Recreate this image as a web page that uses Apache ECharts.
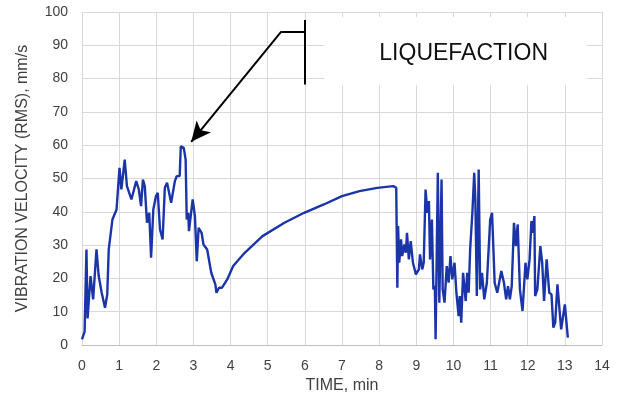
<!DOCTYPE html>
<html>
<head>
<meta charset="utf-8">
<script src="https://cdn.jsdelivr.net/npm/echarts@6/dist/echarts.min.js"></script>
<style>
  html, body { margin: 0; padding: 0; background: #fff; }
  #main { width: 618px; height: 402px; }
</style>
</head>
<body>
<div id="main"></div>
<script>
// time, min
const timeMin = [
  0, 0.07, 0.12, 0.15, 0.23, 0.3, 0.39, 0.45, 0.53, 0.62, 0.68, 0.72, 0.82, 0.93,
  1.01, 1.06, 1.15, 1.21, 1.33, 1.46, 1.53, 1.59, 1.64, 1.69, 1.75, 1.81, 1.86, 1.92,
  1.99, 2.04, 2.1, 2.17, 2.23, 2.29, 2.4, 2.5, 2.55, 2.63, 2.66, 2.74, 2.79, 2.82,
  2.86, 2.88, 2.98, 3.04, 3.09, 3.14, 3.22, 3.27, 3.37, 3.48, 3.59, 3.62, 3.69, 3.77,
  3.91, 4.07, 4.38, 4.86, 5.45, 5.98, 6.51, 7.0, 7.47, 7.95, 8.38, 8.46,
  8.49, 8.51, 8.54, 8.59, 8.62, 8.68, 8.72, 8.75, 8.8, 8.85, 8.91, 8.99, 9.07, 9.1,
  9.16, 9.2, 9.25, 9.3, 9.34, 9.37, 9.42, 9.46, 9.5, 9.52, 9.58, 9.62, 9.68, 9.71,
  9.76, 9.82, 9.87, 9.92, 9.97, 10.03, 10.08, 10.14, 10.17, 10.21, 10.26, 10.33,
  10.37, 10.41, 10.45, 10.51, 10.56, 10.59, 10.63, 10.68, 10.72, 10.77, 10.83, 10.9,
  10.99, 11.04, 11.11, 11.18, 11.29, 11.36, 11.42, 11.47, 11.52, 11.57, 11.63, 11.68,
  11.73, 11.79, 11.86, 11.94, 11.99, 12.05, 12.1, 12.13, 12.18, 12.2, 12.26, 12.34,
  12.39, 12.44, 12.51, 12.58, 12.64, 12.69, 12.74, 12.8, 12.85, 12.9, 12.95, 13.0, 13.08
];

// vibration velocity (RMS), mm/s
const velocity = [
  1.7, 4, 28.7, 8, 20.7, 13.7, 28.7, 20.7, 15.7, 11.2, 15.2, 28.7, 37.7, 40.7,
  53.2, 46.7, 55.7, 47.7, 43.7, 49.2, 46.7, 41.7, 49.7, 47.7, 36.7, 39.7, 26.2, 40.7,
  44.7, 45.7, 34.7, 31.7, 47.2, 48.7, 42.7, 49.2, 50.7, 50.7, 59.7, 59.2, 55.7, 37.7,
  39.7, 34.2, 43.7, 38.7, 25.2, 35.2, 33.7, 30.2, 28.7, 21.7, 18.2, 15.7, 17.2, 17.2,
  19.7, 23.7, 27.7, 32.7, 36.7, 39.7, 42.2, 44.7, 46.2, 47.2, 47.7, 47.2,
  17.2, 35.7, 24.7, 31.7, 26.7, 30.2, 27.7, 33.7, 25.7, 31.2, 24.7, 21.2, 22.7, 27.2,
  22.7, 24.7, 46.7, 39.7, 43.2, 25.7, 37.7, 16.7, 17.7, 1.7, 51.7, 12.7, 49.7, 16.7,
  12.7, 23.7, 18.7, 26.7, 19.7, 24.7, 15.7, 8.7, 14.7, 6.7, 21.7, 13.2,
  21.7, 15.7, 28.7, 39.7, 51.7, 43.7, 14.7, 52.7, 16.7, 21.7, 13.7, 18.7,
  37.7, 39.7, 18.7, 15.7, 22.2, 18.7, 13.7, 17.7, 13.7, 17.7, 36.7, 29.7,
  36.2, 16.7, 10.2, 24.7, 19.7, 25.7, 37.2, 33.7, 38.7, 14.7, 16.7, 29.7,
  24.7, 13.2, 25.7, 15.7, 15.2, 5.2, 6.7, 18.2, 18.7, 4.7, 4.2, 12.2, 2.2
];

const xTicks = [0, 14, 1];
const yTicks = [0, 100, 10];

// annotation: arrow elbow, arrow tip, bracket bar, label box
const arrowFrom = [5.37, 94.2];
const arrowTo = [2.94, 61];
const elbowEnd = [6, 94.2];
const barTop = [6, 97.6];
const barBottom = [6, 78.2];
const boxFrom = [6.53, 98.4];
const boxTo = [13.59, 78.1];
const boxLabel = 'LIQUEFACTION';

const seriesData = timeMin.map((t, i) => [t, velocity[i]]);

const chart = echarts.init(document.getElementById('main'));

const axisFont = { fontFamily: 'Liberation Sans', fontSize: 14, color: '#404040' };

chart.setOption({
  animation: false,
  grid: { left: 82, right: 16, top: 12, bottom: 57 },
  xAxis: {
    type: 'value',
    min: xTicks[0], max: xTicks[1], interval: xTicks[2],
    name: 'TIME, min',
    nameLocation: 'middle',
    nameGap: 31,
    nameTextStyle: Object.assign({}, axisFont, { fontSize: 16 }),
    axisLine: { lineStyle: { color: '#bfbfbf', width: 1 } },
    axisTick: { show: false },
    axisLabel: Object.assign({ margin: 14 }, axisFont),
    splitLine: { show: true, lineStyle: { color: '#d9d9d9', width: 1 } }
  },
  yAxis: {
    type: 'value',
    min: yTicks[0], max: yTicks[1], interval: yTicks[2],
    name: 'VIBRATION VELOCITY (RMS), mm/s',
    nameLocation: 'middle',
    nameGap: 51,
    nameTextStyle: Object.assign({}, axisFont, { fontSize: 16 }),
    axisLine: { show: false },
    axisTick: { show: false },
    axisLabel: Object.assign({ margin: 14 }, axisFont),
    splitLine: { show: true, lineStyle: { color: '#d9d9d9', width: 1 } }
  },
  series: [
    {
      type: 'line',
      data: seriesData,
      showSymbol: false,
      symbol: 'none',
      lineStyle: { color: '#1b35a8', width: 2.4 },
      z: 3,
      markArea: {
        silent: true,
        itemStyle: { color: '#ffffff' },
        label: {
          show: true,
          position: 'inside',
          offset: [8, 3],
          color: '#111',
          fontFamily: 'Liberation Sans',
          fontSize: 23
        },
        data: [[{ coord: boxFrom, name: boxLabel }, { coord: boxTo }]]
      },
      markLine: {
        silent: true,
        animation: false,
        symbolSize: [14, 20],
        lineStyle: { color: '#000', width: 2, type: 'solid' },
        label: { show: false },
        data: [
          [{ coord: arrowFrom, symbol: 'none' }, { coord: arrowTo, symbol: 'arrow' }],
          [{ coord: arrowFrom, symbol: 'none' }, { coord: elbowEnd, symbol: 'none' }],
          [{ coord: barTop, symbol: 'none' }, { coord: barBottom, symbol: 'none' }]
        ]
      }
    }
  ]
});
</script>
</body>
</html>
